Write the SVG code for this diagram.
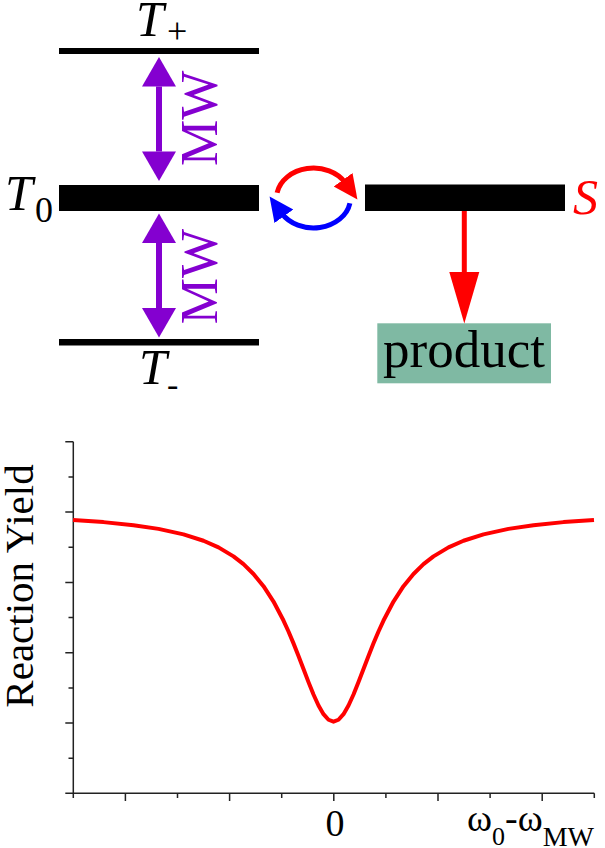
<svg xmlns="http://www.w3.org/2000/svg" width="605" height="848" viewBox="0 0 605 848">
<style>
  text { font-family: "Liberation Serif", "Times New Roman", serif; fill: #000; }
  .it { font-style: italic; }
  .level { fill: #000; }
  .mw { fill: #8400d0; }
  .axis { stroke: #222; stroke-width: 1.5; fill: none; }
  .tick { stroke: #222; stroke-width: 1.5; }
</style>
<defs>
  <marker id="headPurple" markerUnits="userSpaceOnUse" markerWidth="40" markerHeight="40" viewBox="0 -20 30 40" refX="0" refY="0" orient="auto-start-reverse">
    <path d="M0,-17 L29.5,0 L0,17 z" fill="#8400d0"/>
  </marker>
  <marker id="headRedLong" markerUnits="userSpaceOnUse" markerWidth="60" markerHeight="40" viewBox="0 -20 55 40" refX="0" refY="0" orient="auto">
    <path d="M0,-15 L51.5,0 L0,15 z" fill="#ff0000"/>
  </marker>
  <marker id="headRed" markerUnits="userSpaceOnUse" markerWidth="30" markerHeight="30" viewBox="0 -10 22 20" refX="3" refY="0" orient="auto">
    <path d="M0,-8.5 L18,0 L0,8.5 z" fill="#ff0000"/>
  </marker>
  <marker id="headBlue" markerUnits="userSpaceOnUse" markerWidth="30" markerHeight="30" viewBox="0 -10 22 20" refX="3" refY="0" orient="auto">
    <path d="M0,-8.5 L18,0 L0,8.5 z" fill="#0000ff"/>
  </marker>
</defs>

<g id="level-Tplus">
  <rect class="level" x="59" y="48" width="200" height="6"/>
  <text class="it" x="136" y="36" font-size="50">T</text>
  <text x="167" y="43" font-size="36">+</text>
</g>
<g id="level-T0">
  <rect class="level" x="59" y="185" width="200" height="26"/>
  <text class="it" x="5" y="210" font-size="50">T</text>
  <text x="35" y="222" font-size="36">0</text>
</g>
<g id="level-Tminus">
  <rect class="level" x="59" y="339" width="200" height="6.5"/>
  <text class="it" x="139" y="383.5" font-size="50">T</text>
  <text x="167" y="395.5" font-size="34">-</text>
</g>
<g id="level-S">
  <rect class="level" x="365" y="184.5" width="200" height="26.5"/>
  <text class="it" x="573" y="214" font-size="50" style="fill:#ff0000">S</text>
</g>
<g id="product">
  <rect x="377.3" y="323.3" width="173.7" height="60" fill="#7fb9a3"/>
  <text x="464" y="366.5" font-size="53" text-anchor="middle">product</text>
</g>
<g id="mw-upper">
  <text class="mw" font-size="52" text-anchor="middle" transform="translate(217,118.3) rotate(-90)" style="fill:#8400d0">MW</text>
</g>
<g id="mw-lower">
  <text class="mw" font-size="52" text-anchor="middle" transform="translate(217,276.7) rotate(-90)" style="fill:#8400d0">MW</text>
</g>

<g id="connectors">
  <path d="M159,86.5 L159,151.5" stroke="#8400d0" stroke-width="6" marker-start="url(#headPurple)" marker-end="url(#headPurple)"/>
  <path d="M159,243 L159,308" stroke="#8400d0" stroke-width="6" marker-start="url(#headPurple)" marker-end="url(#headPurple)"/>
  <path d="M464.3,211 L464.3,272" stroke="#ff0000" stroke-width="5" marker-end="url(#headRedLong)"/>
  <path d="M277.1,192.8 A37,30 0 0 1 345.5,183" stroke="#ff0000" stroke-width="5" fill="none" marker-end="url(#headRed)"/>
  <path d="M349.9,203.2 A37,30 0 0 1 281.5,213" stroke="#0000ff" stroke-width="5" fill="none" marker-end="url(#headBlue)"/>
</g>

<g id="plot">
  <path class="axis" d="M73.3,441.7 L73.3,793.3 L594.3,793.3"/>
  <g id="yticks">
    <path class="tick" d="M65.3,441.7 H73.3 M68.5,476.9 H73.3 M65.3,512.1 H73.3 M68.5,547.2 H73.3 M65.3,582.4 H73.3 M68.5,617.6 H73.3 M65.3,652.8 H73.3 M68.5,687.9 H73.3 M65.3,723.1 H73.3 M68.5,758.2 H73.3 M65.3,793.3 H73.3"/>
  </g>
  <g id="xticks">
    <path class="tick" d="M73.3,793.3 V798 M125.4,793.3 V801 M177.5,793.3 V798 M229.6,793.3 V801 M281.7,793.3 V798 M333.8,793.3 V801 M385.9,793.3 V798 M438,793.3 V801 M490.1,793.3 V798 M542.2,793.3 V801 M594.3,793.3 V798"/>
  </g>
  <polyline id="curve" fill="none" stroke="#ff0000" stroke-width="4" stroke-linejoin="round" points="73,519.98 103.5,522.12 133.5,525.18 158.5,528.89 183.5,534.34 203.5,540.73 218.5,547.37 233.5,556.36 243.5,564.18 253.5,573.95 263.5,586.2 273.5,601.55 283.5,620.55 288.5,631.5 293.5,643.35 298.5,655.96 303.5,669.03 308.5,682.1 313.5,694.5 318.5,705.47 323.5,714.16 328.5,719.76 333.5,721.7 338.5,719.76 343.5,714.16 348.5,705.47 353.5,694.5 358.5,682.1 363.5,669.03 368.5,655.96 373.5,643.35 378.5,631.5 383.5,620.55 393.5,601.55 403.5,586.2 413.5,573.95 423.5,564.18 433.5,556.36 448.5,547.37 463.5,540.73 483.5,534.34 508.5,528.89 533.5,525.18 563.5,522.12 594,519.98"/>
  <text font-size="41" text-anchor="middle" transform="translate(32.5,586) rotate(-90)">Reaction Yield</text>
  <text x="335" y="836" font-size="38" text-anchor="middle">0</text>
  <text x="467" y="831" font-size="38">ω<tspan dy="14" font-size="26">0</tspan><tspan dy="-14">-ω</tspan><tspan dy="15" font-size="28">MW</tspan></text>
</g>
</svg>
